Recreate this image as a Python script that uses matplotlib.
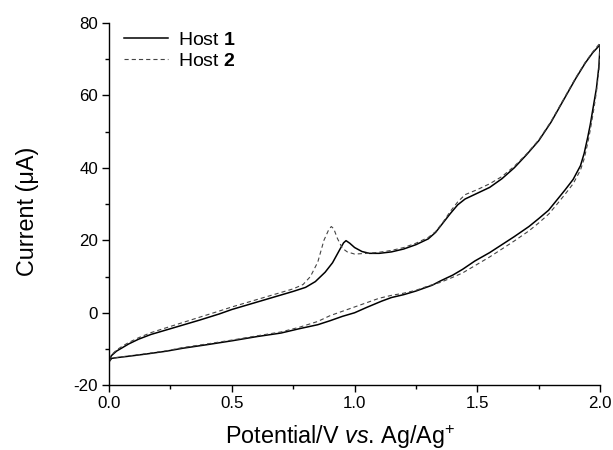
import matplotlib
matplotlib.use("Agg")
import matplotlib.pyplot as plt
from matplotlib.ticker import MultipleLocator, FormatStrFormatter

plt.rcParams['font.family'] = ['Liberation Sans', 'DejaVu Sans']
plt.rcParams['mathtext.fontset'] = 'custom'
plt.rcParams['mathtext.rm'] = 'Liberation Sans'
plt.rcParams['mathtext.it'] = 'Liberation Sans:italic'
plt.rcParams['mathtext.bf'] = 'Liberation Sans:bold'
plt.rcParams['lines.scale_dashes'] = False
plt.rcParams['axes.unicode_minus'] = False

# Host 1, forward (anodic) sweep
h1_fwd_v = [0.00, 0.01, 0.03, 0.05, 0.08, 0.12, 0.17, 0.23, 0.30, 0.37, 0.45, 0.50,
            0.57, 0.64, 0.70, 0.75, 0.80, 0.84, 0.88, 0.91, 0.94, 0.955, 0.965, 0.98,
            1.00, 1.03, 1.06, 1.10, 1.15, 1.20, 1.25, 1.30, 1.33, 1.36, 1.39, 1.42,
            1.45, 1.50, 1.55, 1.60, 1.65, 1.70, 1.75, 1.80, 1.85, 1.90, 1.94, 1.97, 2.00]
h1_fwd_i = [-13.0, -11.8, -10.6, -9.8, -8.6, -7.3, -6.0, -4.8, -3.4, -2.0, -0.3, 0.9,
            2.3, 3.7, 4.9, 5.9, 7.0, 8.6, 11.2, 13.8, 17.5, 19.3, 19.9, 19.2,
            18.0, 16.9, 16.4, 16.4, 16.8, 17.6, 18.8, 20.4, 22.2, 24.8, 27.4, 29.8,
            31.4, 33.0, 34.6, 37.0, 40.0, 43.6, 47.5, 52.6, 58.6, 64.6, 69.0, 71.8, 74.0]

# Host 1, reverse (cathodic) sweep
h1_rev_v = [2.00, 1.995, 1.985, 1.975, 1.96, 1.95, 1.935, 1.92, 1.89, 1.857, 1.82,
            1.79, 1.75, 1.71, 1.65, 1.60, 1.55, 1.49, 1.44, 1.40, 1.35, 1.316, 1.25,
            1.20, 1.15, 1.11, 1.05, 1.00, 0.95, 0.90, 0.85, 0.775, 0.70, 0.60, 0.504,
            0.40, 0.30, 0.234, 0.15, 0.08, 0.03, 0.01, 0.00, 0.00]
h1_rev_i = [74.0, 68.0, 62.0, 58.0, 52.0, 48.6, 44.0, 40.6, 36.8, 33.9, 30.8,
            28.3, 26.0, 23.8, 21.0, 18.8, 16.6, 14.3, 12.0, 10.4, 8.8, 7.6, 6.0,
            5.0, 4.2, 3.2, 1.5, 0.0, -1.0, -2.2, -3.3, -4.4, -5.6, -6.6, -7.7,
            -8.8, -9.8, -10.6, -11.4, -12.0, -12.4, -12.6, -13.5, -16.0]

# Host 2, forward (anodic) sweep
h2_fwd_v = [0.00, 0.01, 0.03, 0.05, 0.08, 0.12, 0.17, 0.23, 0.30, 0.37, 0.45, 0.50,
            0.57, 0.64, 0.70, 0.75, 0.79, 0.82, 0.85, 0.875, 0.895, 0.905, 0.915, 0.93,
            0.95, 0.97, 1.00, 1.05, 1.10, 1.15, 1.20, 1.25, 1.30, 1.33, 1.36, 1.39,
            1.42, 1.45, 1.50, 1.55, 1.60, 1.65, 1.70, 1.75, 1.80, 1.85, 1.90, 1.94, 1.97, 2.00]
h2_fwd_i = [-13.0, -11.6, -10.3, -9.4, -8.2, -6.9, -5.5, -4.2, -2.7, -1.2, 0.5, 1.6,
            3.0, 4.4, 5.6, 6.6, 7.8, 10.0, 14.0, 20.0, 23.0, 23.8, 23.2, 20.5,
            17.8, 16.8, 16.2, 16.4, 16.7, 17.2, 18.0, 19.2, 20.8, 22.4, 25.0, 28.0,
            30.6, 32.6, 34.0, 35.6, 37.6, 40.4, 43.8, 47.7, 52.8, 58.8, 64.8, 69.2, 72.0, 74.5]

# Host 2, reverse (cathodic) sweep
h2_rev_v = [2.00, 1.995, 1.985, 1.975, 1.96, 1.95, 1.935, 1.92, 1.89, 1.857, 1.82,
            1.79, 1.75, 1.71, 1.65, 1.60, 1.55, 1.49, 1.44, 1.40, 1.35, 1.30, 1.25,
            1.20, 1.15, 1.10, 1.05, 1.00, 0.95, 0.90, 0.85, 0.775, 0.70, 0.60, 0.504,
            0.40, 0.30, 0.234, 0.15, 0.08, 0.03, 0.01, 0.00, 0.00]
h2_rev_i = [74.5, 67.0, 61.0, 56.5, 50.5, 47.0, 42.5, 39.4, 35.6, 32.7, 29.6,
            27.2, 24.8, 22.6, 19.8, 17.6, 15.4, 13.0, 11.0, 9.8, 8.4, 7.4, 6.2,
            5.4, 4.8, 4.0, 2.8, 1.6, 0.4, -0.8, -2.4, -4.0, -5.3, -6.4, -7.5,
            -8.6, -9.6, -10.5, -11.3, -11.9, -12.4, -12.6, -13.5, -16.0]

fig = plt.figure(figsize=(6.13, 4.5), dpi=100)
ax = fig.add_axes([0.178, 0.144, 0.801, 0.805])

ax.plot(h1_fwd_v + h1_rev_v, h1_fwd_i + h1_rev_i, color='black', lw=1.1,
        label=r'Host $\mathbf{1}$')
ax.plot(h2_fwd_v + h2_rev_v, h2_fwd_i + h2_rev_i, color='#444444', lw=0.8,
        dashes=(3, 2.2), label=r'Host $\mathbf{2}$')

ax.set_xlim(0, 2.0)
ax.set_ylim(-20, 80)
ax.xaxis.set_major_locator(MultipleLocator(0.5))
ax.xaxis.set_minor_locator(MultipleLocator(0.25))
ax.yaxis.set_major_locator(MultipleLocator(20))
ax.yaxis.set_minor_locator(MultipleLocator(10))
ax.xaxis.set_major_formatter(FormatStrFormatter('%.1f'))

for side in ['top', 'right']:
    ax.spines[side].set_visible(False)
for side in ['left', 'bottom']:
    ax.spines[side].set_linewidth(1.0)

ax.tick_params(which='major', direction='out', length=5, width=1, labelsize=12.2, pad=3)
ax.tick_params(which='minor', direction='out', length=3, width=1)

ax.set_xlabel(r'Potential/V $vs$. Ag/Ag$^{+}$', fontsize=16.8)
ax.set_ylabel('Current (μA)', fontsize=16.8)
ax.xaxis.set_label_coords(0.47, -0.104)
ax.yaxis.set_label_coords(-0.142, 0.48)

ax.legend(loc='upper left', bbox_to_anchor=(0.0, 1.018), frameon=False, fontsize=14,
          handlelength=2.3, handletextpad=0.5, labelspacing=0.2, borderaxespad=0.35)

fig.savefig('out.png', dpi=100)
